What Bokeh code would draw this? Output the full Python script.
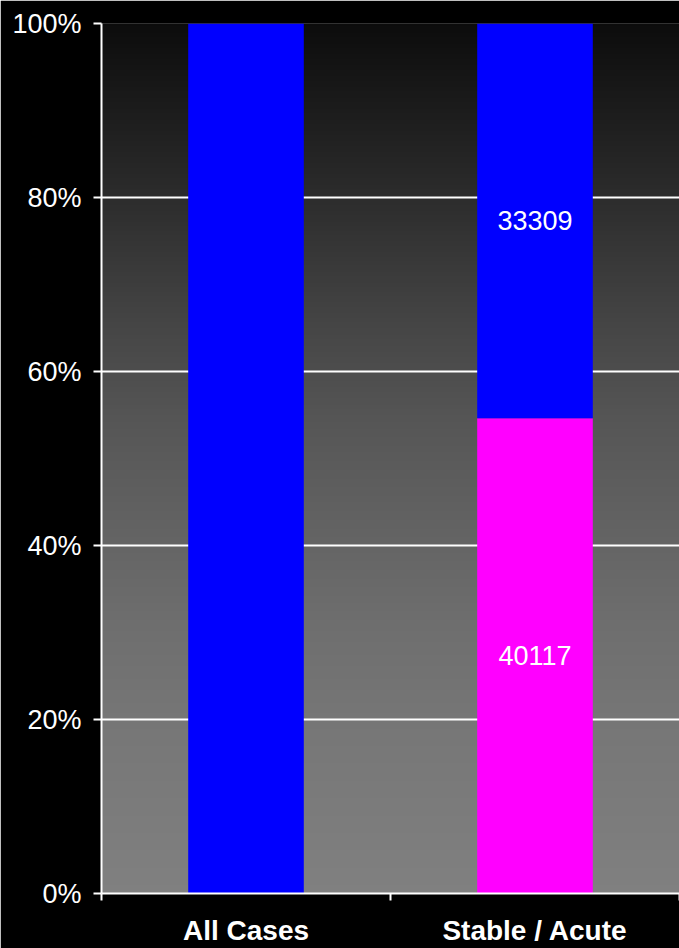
import numpy as np
from bokeh.plotting import figure
from bokeh.models import (Range1d, FixedTicker, PrintfTickFormatter, ColumnDataSource)
from bokeh.core.properties import value
from bokeh.embed import file_html
from bokeh.resources import INLINE

# ---- data ----
categories = ["All Cases", "Stable / Acute"]
series_blue = [73426, 33309]      # upper (blue) segment
series_magenta = [0, 40117]       # lower (magenta) segment
labelled = [False, True]          # which bars carry value labels
y_ticks = [0, 20, 40, 60, 80, 100]

totals = [b + m for b, m in zip(series_blue, series_magenta)]
pct_mag = [m / t * 100 for m, t in zip(series_magenta, totals)]
pct_blue = [b / t * 100 for b, t in zip(series_blue, totals)]
ncat = len(categories)
xpos = [i + 0.5 for i in range(ncat)]   # category centres on a 0..n axis

W, H = 679, 948
p = figure(width=W, height=H, output_backend="svg", toolbar_location=None,
           x_range=Range1d(0, ncat), y_range=Range1d(0, 100),
           min_border_left=101, min_border_right=0, min_border_top=23,
           min_border_bottom=0)
p.background_fill_color = "black"
p.border_fill_color = "black"
p.outline_line_color = None

# smooth vertical gradient background (style only)
stops_y = [0, 20, 31, 54, 66, 80, 100]
stops_v = [128, 118, 110, 86, 68, 44, 12]
ny = 400
yy = (np.arange(ny) + 0.5) / ny * 100
gv = np.interp(yy, stops_y, stops_v).round().astype(np.uint32)
img = np.empty((ny, 1), dtype=np.uint32)
view = img.view(dtype=np.uint8).reshape((ny, 1, 4))
view[:, 0, 0] = gv
view[:, 0, 1] = gv
view[:, 0, 2] = gv
view[:, 0, 3] = 255
p.image_rgba(image=[img], x=0, y=0, dw=ncat, dh=100, level="image")

# bars
src = ColumnDataSource(dict(x=xpos, m0=[0] * ncat, m1=pct_mag,
                            b1=[pm + pb for pm, pb in zip(pct_mag, pct_blue)]))
p.vbar(x="x", bottom="m0", top="m1", width=0.4, source=src,
       fill_color="#ff00ff", line_color=None)
p.vbar(x="x", bottom="m1", top="b1", width=0.4, source=src,
       fill_color="#0000ff", line_color=None)

# value labels
lx, ly, lt = [], [], []
for i in range(ncat):
    if labelled[i]:
        lx += [xpos[i], xpos[i]]
        ly += [pct_mag[i] / 2, pct_mag[i] + pct_blue[i] / 2]
        lt += [str(series_magenta[i]), str(series_blue[i])]
p.text(x=lx, y=ly, text=lt, text_color="white", text_align="center",
       text_baseline="middle", text_font=value("Liberation Sans"),
       text_font_size="27px")

# y axis
yax = p.yaxis[0]
yax.ticker = FixedTicker(ticks=y_ticks)
yax.formatter = PrintfTickFormatter(format="%d%%")
yax.axis_line_color = "white"
yax.axis_line_width = 2
yax.major_tick_line_color = "white"
yax.major_tick_line_width = 2
yax.major_tick_out = 8
yax.major_tick_in = 0
yax.minor_tick_line_color = None
yax.major_label_standoff = 12
yax.major_label_text_color = "white"
yax.major_label_text_font = "Liberation Sans"
yax.major_label_text_font_size = "27px"

p.ygrid.grid_line_color = "white"
p.ygrid.grid_line_width = 2
p.ygrid.ticker = FixedTicker(ticks=y_ticks)
p.xgrid.grid_line_color = None

# x axis: labels at centres, tick marks at category boundaries
xax = p.xaxis[0]
xax.ticker = FixedTicker(ticks=xpos, minor_ticks=list(range(ncat + 1)))
xax.major_label_overrides = {xpos[i]: c for i, c in enumerate(categories)}
xax.axis_line_color = "white"
xax.axis_line_width = 2
xax.major_tick_line_color = None
xax.major_tick_out = 0
xax.major_tick_in = 0
xax.minor_tick_line_color = "white"
xax.minor_tick_line_width = 2
xax.minor_tick_out = 7
xax.minor_tick_in = 0
xax.major_label_standoff = 14
xax.major_label_text_color = "white"
xax.major_label_text_font = "Liberation Sans"
xax.major_label_text_font_style = "bold"
xax.major_label_text_font_size = "28px"

open("out.html", "w").write(file_html(p, INLINE))
